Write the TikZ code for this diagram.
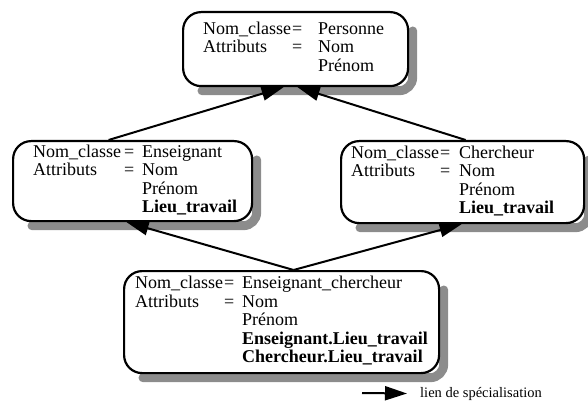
\documentclass[tikz,border=0pt]{standalone}
\usepackage{fontspec}
\setmainfont{Liberation Serif}
\usetikzlibrary{arrows.meta,backgrounds}
\definecolor{gris}{RGB}{140,140,140}

\begin{document}
\begin{tikzpicture}[x=1pt, y=-1pt,
	classe/.style={draw, line width=2.2pt, rounded corners=18pt, fill=white, anchor=north west, align=left, inner ysep=2pt,
		font=\fontsize{18}{18.5}\selectfont},
	ombre/.style={draw=gris, line width=9pt, rounded corners=13.5pt, line cap=round},
	spec/.style={-{Triangle[length=22pt,width=14pt]}, line width=2pt},]

\useasboundingbox (0,0) rectangle (588,403);

\node [classe, text width=185pt, inner xsep=20pt, minimum height=74pt] (personne) at (182,11)
	{\begin{tabular}{@{}l@{\hspace{1pt}}c@{\hspace{16pt}}l@{}}
	Nom\_classe & = & Personne\\
	Attributs & = & Nom\\
	& & Prénom
	\end{tabular}};
\node [classe, text width=199pt, inner xsep=20pt, minimum height=80pt] (enseignant) at (12,140)
	{\begin{tabular}{@{}l@{\hspace{3pt}}c@{\hspace{8pt}}l@{}}
	Nom\_classe & = & Enseignant\\
	Attributs & = & Nom\\
	& & Prénom\\
	& & \textbf{Lieu\_travail}
	\end{tabular}};
\node [classe, text width=223pt, inner xsep=10pt, minimum height=82pt] (chercheur) at (340,140)
	{\begin{tabular}{@{}l@{\hspace{1pt}}c@{\hspace{9pt}}l@{}}
	Nom\_classe & = & Chercheur\\
	Attributs & = & Nom\\
	& & Prénom\\
	& & \textbf{Lieu\_travail}
	\end{tabular}};
\node [classe, text width=293pt, inner xsep=11pt, minimum height=102pt] (enschercheur) at (123,270)
	{\begin{tabular}{@{}l@{\hspace{1pt}}c@{\hspace{8pt}}l@{}}
	Nom\_classe & = & Enseignant\_chercheur\\
	Attributs & = & Nom\\
	& & Prénom\\
	& & \textbf{Enseignant.Lieu\_travail}\\
	& & \textbf{Chercheur.Lieu\_travail}
	\end{tabular}};

% ombres
\begin{scope}[on background layer]
\foreach \n in {personne,enseignant,chercheur,enschercheur}
	\draw [ombre] ([shift={(3.5pt,-20pt)}]\n.north east) -- ([shift={(3.5pt,-3.5pt)}]\n.south east) -- ([shift={(20pt,-3.5pt)}]\n.south west);
\end{scope}

\draw [spec] ([xshift=-24pt]enseignant.north) -- ([xshift=-12pt]personne.south);
\draw [spec] ([xshift=3pt]chercheur.north) -- ([xshift=2pt]personne.south);
\draw [spec] ([xshift=12pt]enschercheur.north) -- ([xshift=-6pt]enseignant.south);
\draw [spec] ([xshift=12pt]enschercheur.north) -- ([xshift=-1pt]chercheur.south);

% legende
\node [font=\fontsize{14.5}{16}\selectfont, inner sep=0pt, anchor=base west] (legende) at (420,397) {lien de spécialisation};
\coordinate (legdebut) at (362,393);
\draw [spec] (legdebut) -- ([xshift=-13pt]legende.west);

\end{tikzpicture}
\end{document}
